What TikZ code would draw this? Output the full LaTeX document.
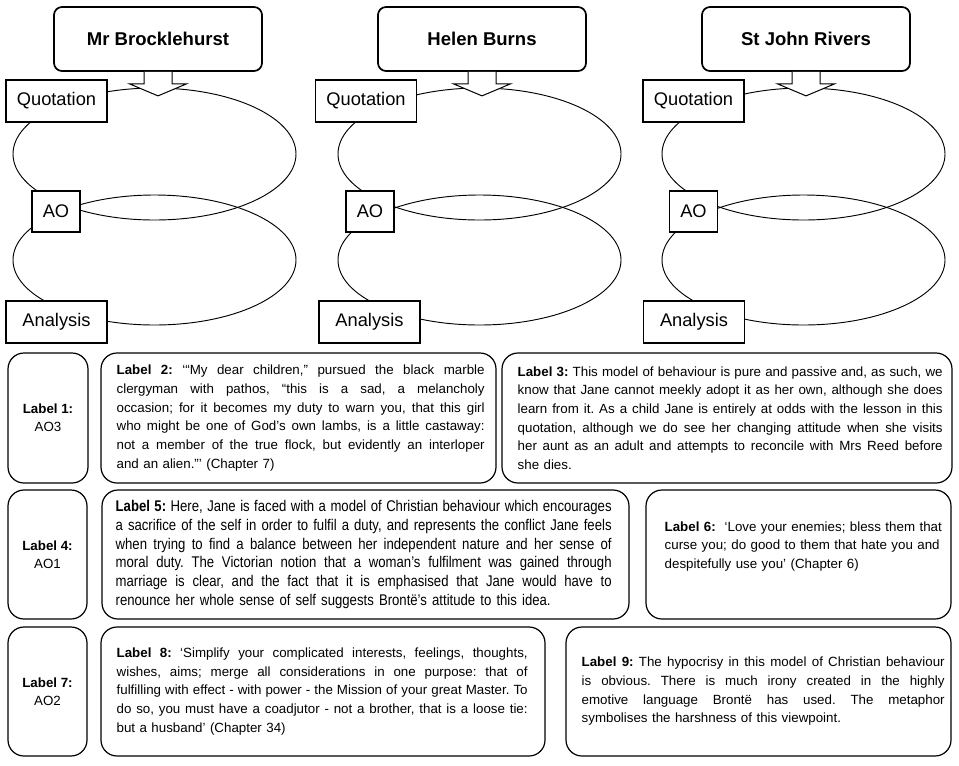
\documentclass[tikz,border=0pt]{standalone}
\usepackage{fontspec}
\setmainfont{Liberation Sans}
\newfontfamily\narrowfont[FakeStretch=0.85]{Liberation Sans}
\newcommand\jl[2]{\leavevmode\hbox to #1{\spaceskip=0.28em plus 1em minus 0.07em\relax #2}}
\hbadness=10000 \hfuzz=20pt
\frenchspacing
\begin{document}
\begin{tikzpicture}[x=0.75pt,y=-0.75pt,
  titlebox/.style={draw, line width=1.3pt, rounded corners=6pt, fill=white, minimum width=156pt, minimum height=48pt, inner sep=0pt, font=\fontsize{13.9}{16}\selectfont\bfseries},
  tagbox/.style={draw, line width=1.3pt, fill=white, minimum width=75.75pt, minimum height=31.5pt, inner sep=0pt, font=\fontsize{13.7}{16}\selectfont},
  aobox/.style={tagbox, minimum width=36pt, minimum height=30.75pt},
  ring/.style={line width=0.7pt},
  harrow/.style={draw, fill=white, line width=0.75pt, line join=miter},
  lblbox/.style={draw, line width=0.9pt, rounded corners=12pt, inner sep=0pt, align=center, font=\fontsize{10}{13.5}\selectfont},
  textblk/.style={inner sep=0pt, align=left, anchor=west, font=\fontsize{10}{14}\selectfont\frenchspacing}
]
\useasboundingbox (0,0) rectangle (959,765);

% loops
\foreach \cx in {154.5,479.5,803.5}{
  \draw[ring] (\cx,154) ellipse [x radius=141.5, y radius=66];
  \draw[ring] (\cx,260) ellipse [x radius=141.5, y radius=65];
}

% column 1
\node[titlebox] (t1) at (158,39) {Mr Brocklehurst};
\node[tagbox] (q1) at (56.5,101) {Quotation};
\node[aobox] (a1) at (56,211.5) {AO};
\node[tagbox] (n1) at (56.5,322) {Analysis};
% column 2
\node[titlebox] (t2) at (482,39) {Helen Burns};
\node[tagbox] (q2) at (366,101) {Quotation};
\node[aobox] (a2) at (370,211.5) {AO};
\node[tagbox] (n2) at (369.5,322) {Analysis};
% column 3
\node[titlebox] (t3) at (806,39) {St John Rivers};
\node[tagbox] (q3) at (693.5,101) {Quotation};
\node[aobox] (a3) at (693.5,211.5) {AO};
\node[tagbox] (n3) at (694,322) {Analysis};

% hollow arrows
\foreach \t in {t1,t2,t3}{
  \draw[harrow] ([xshift=-10.5pt]\t.south) -- ++(0,12) -- ++(-14.5,0) -- ++(28.5,12) -- ++(28.5,-12) -- ++(-14.5,0) -- ++(0,-12);
}

% row 1
\node[lblbox, minimum width=60pt, minimum height=97.5pt] (b1) at (48,418) {\textbf{Label 1:}\\AO3};
\node[lblbox, minimum width=296.25pt, minimum height=97.5pt] (b2) at (298.5,418) {};
\node[textblk, text width=276pt] (x2) at ([xshift=12pt]b2.west) {%
\jl{276pt}{\textbf{Label 2:} ‘“My dear children,” pursued the black marble}\\
\jl{276pt}{clergyman with pathos, “this is a sad, a melancholy}\\
\jl{276pt}{occasion; for it becomes my duty to warn you, that this girl}\\
\jl{276pt}{who might be one of God’s own lambs, is a little castaway:}\\
\jl{276pt}{not a member of the true flock, but evidently an interloper}\\
and an alien.”’ (Chapter 7)};
\node[lblbox, minimum width=337.5pt, minimum height=97.5pt] (b3) at (727,418) {};
\node[textblk, text width=318.75pt] (x3) at ([xshift=12pt]b3.west) {%
\jl{318.75pt}{\textbf{Label 3:} This model of behaviour is pure and passive and, as such, we}\\
\jl{318.75pt}{know that Jane cannot meekly adopt it as her own, although she does}\\
\jl{318.75pt}{learn from it. As a child Jane is entirely at odds with the lesson in this}\\
\jl{318.75pt}{quotation, although we do see her changing attitude when she visits}\\
\jl{318.75pt}{her aunt as an adult and attempts to reconcile with Mrs Reed before}\\
she dies.};

% row 2
\node[lblbox, minimum width=59.25pt, minimum height=96.75pt] (b4) at (47.5,554.5) {\textbf{Label 4:}\\AO1};
\node[lblbox, minimum width=395.25pt, minimum height=96.75pt] (b5) at (365.5,554.5) {};
\node[textblk, text width=372pt, font=\narrowfont\fontsize{11.6}{14.1}\selectfont] (x5) at ([xshift=10.5pt]b5.west) {%
\jl{372pt}{\textbf{Label 5:} Here, Jane is faced with a model of Christian behaviour which encourages}\\
\jl{372pt}{a sacrifice of the self in order to fulfil a duty, and represents the conflict Jane feels}\\
\jl{372pt}{when trying to find a balance between her independent nature and her sense of}\\
\jl{372pt}{moral duty. The Victorian notion that a woman’s fulfilment was gained through}\\
\jl{372pt}{marriage is clear, and the fact that it is emphasised that Jane would have to}\\
renounce her whole sense of self suggests Brontë’s attitude to this idea.};
\node[lblbox, minimum width=228.75pt, minimum height=96.75pt] (b6) at (798.5,554.5) {};
\node[textblk, text width=217.5pt] (x6) at ([xshift=14.25pt,yshift=6pt]b6.west) {%
\textbf{Label 6:}\ \ ‘Love your enemies; bless them that\\
curse you; do good to them that hate you and\\
despitefully use you’ (Chapter 6)};

% row 3
\node[lblbox, minimum width=59.25pt, minimum height=96.75pt] (b7) at (47.5,691.5) {\textbf{Label 7:}\\AO2};
\node[lblbox, minimum width=333pt, minimum height=96.75pt] (b8) at (323,691.5) {};
\node[textblk, text width=308.25pt] (x8) at ([xshift=12pt]b8.west) {%
\jl{308.25pt}{\textbf{Label 8:} ‘Simplify your complicated interests, feelings, thoughts,}\\
\jl{308.25pt}{wishes, aims; merge all considerations in one purpose: that of}\\
\jl{308.25pt}{fulfilling with effect - with power - the Mission of your great Master. To}\\
\jl{308.25pt}{do so, you must have a coadjutor - not a brother, that is a loose tie:}\\
but a husband’ (Chapter 34)};
\node[lblbox, minimum width=288.75pt, minimum height=96.75pt] (b9) at (758.5,691.5) {};
\node[textblk, text width=272.25pt] (x9) at ([xshift=12pt]b9.west) {%
\jl{272.25pt}{\textbf{Label 9:} The hypocrisy in this model of Christian behaviour}\\
\jl{272.25pt}{is obvious. There is much irony created in the highly}\\
\jl{272.25pt}{emotive language Brontë has used. The metaphor}\\
symbolises the harshness of this viewpoint.};
\end{tikzpicture}
\end{document}
